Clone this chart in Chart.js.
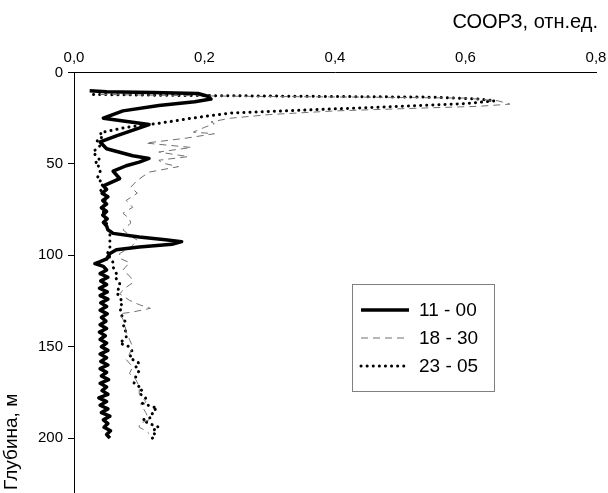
<!DOCTYPE html>
<html>
<head>
<meta charset="utf-8">
<title>СООРЗ</title>
<script src="https://cdn.jsdelivr.net/npm/chart.js@4.4.1/dist/chart.umd.min.js"></script>
<style>
    html, body { margin: 0; padding: 0; background: #ffffff; overflow: hidden; }
    #wrap { position: relative; width: 608px; height: 493px; }
</style>
</head>
<body>
<div id="wrap"><canvas id="profile-chart"></canvas></div>
<script>
// Axis ticks
const xTickValues = [0, 0.2, 0.4, 0.6, 0.8];
const yTickValues = [0, 50, 100, 150, 200];

// Series names (time of measurement)
const seriesNames = ['11 - 00', '18 - 30', '23 - 05'];

// 11 - 00 : depth (m) and value
const depth1100 = [10, 10.5, 11, 11.5, 13, 14.5, 16, 18, 21, 25, 28.5, 31, 34.5, 38, 41.7, 45.5, 47, 49, 51, 54, 58, 62,
    64, 66, 68, 70, 72, 74, 76, 78, 80, 82, 84, 86, 88, 90, 91.5, 92.5, 94, 95.5, 97, 99, 102, 103.5, 104.5,
    106, 108, 110, 112, 114, 116, 118, 120, 122, 124, 126, 128, 130, 132, 134, 136, 138, 140, 142, 144, 146, 148,
    150, 152, 154, 156, 158, 160, 162, 164, 166, 168, 170, 172, 174, 176, 178, 180, 182, 184, 186, 188, 190, 192,
    194, 196, 198, 200];
const value1100 = [0.024, 0.05, 0.12, 0.19, 0.205, 0.21, 0.185, 0.13, 0.075, 0.045, 0.115, 0.095, 0.066, 0.04, 0.05, 0.09, 0.115, 0.1, 0.08, 0.06, 0.07, 0.045,
    0.05, 0.043, 0.052, 0.044, 0.05, 0.042, 0.05, 0.044, 0.051, 0.045, 0.05, 0.052, 0.06, 0.1, 0.14, 0.165, 0.15, 0.1, 0.065, 0.055, 0.05, 0.04, 0.032,
    0.045, 0.05, 0.04, 0.052, 0.041, 0.05, 0.039, 0.051, 0.04, 0.052, 0.041, 0.05, 0.04, 0.051, 0.042, 0.049, 0.04, 0.05, 0.039, 0.048, 0.04, 0.05,
    0.042, 0.052, 0.04, 0.05, 0.041, 0.052, 0.04, 0.05, 0.042, 0.053, 0.04, 0.05, 0.043, 0.052, 0.038, 0.05, 0.04, 0.052, 0.042, 0.055, 0.045, 0.052,
    0.046, 0.056, 0.05, 0.055];

// 18 - 30
const depth1830 = [12, 13, 13.5, 14, 15.5, 17.3, 18.5, 19.5, 21, 23, 25, 27, 28, 30, 32.6, 33.5, 36, 38.6, 41, 43.5, 46, 48, 49.5, 51.5, 54.5,
    59, 62.7, 66, 70, 73.7, 77, 80, 82.4, 86, 89, 91.7, 95.5, 99, 101.6, 104, 108, 112, 115, 117.5, 121, 124.6, 127, 129, 131, 132,
    135, 138, 142, 146, 150, 154, 157, 161, 164.6, 168, 172, 176, 180, 183, 186, 190, 192, 194, 196, 197.5];
const value1830 = [0.04, 0.25, 0.45, 0.6, 0.65, 0.668, 0.62, 0.53, 0.4, 0.3, 0.24, 0.21, 0.215, 0.2, 0.183, 0.215, 0.17, 0.11, 0.18, 0.13, 0.175, 0.13, 0.135, 0.16, 0.115,
    0.097, 0.087, 0.097, 0.08, 0.09, 0.075, 0.085, 0.087, 0.075, 0.085, 0.097, 0.087, 0.07, 0.07, 0.085, 0.075, 0.087, 0.09, 0.08, 0.07, 0.085, 0.1, 0.117, 0.09, 0.07,
    0.075, 0.078, 0.08, 0.085, 0.09, 0.085, 0.08, 0.09, 0.085, 0.095, 0.1, 0.1, 0.11, 0.105, 0.11, 0.115, 0.1, 0.1, 0.11, 0.115];

// 23 - 05
const depth2305 = [12, 12.5, 13, 13.5, 14.5, 15.5, 17, 17.8, 20, 22.2, 25, 27.7, 30, 33, 35, 37, 40, 43.5, 46, 48, 49.5, 52, 55, 58, 60.5,
    64, 68, 72, 77, 81, 84.6, 88, 91.7, 96, 100, 101, 104, 106.5, 110, 112, 115, 117.5, 120, 123, 126, 128, 131, 134, 137, 139,
    142, 145, 148, 150, 153, 156, 159, 161, 163, 166, 170, 173, 175.5, 178, 181, 183.7, 185, 188.5, 190, 192, 194, 196, 198.5, 200];
const value2305 = [0.03, 0.15, 0.35, 0.55, 0.62, 0.645, 0.6, 0.546, 0.393, 0.239, 0.18, 0.132, 0.08, 0.04, 0.045, 0.035, 0.04, 0.029, 0.035, 0.04, 0.032, 0.04, 0.04, 0.035, 0.045,
    0.04, 0.05, 0.045, 0.045, 0.05, 0.05, 0.055, 0.055, 0.055, 0.05, 0.055, 0.06, 0.06, 0.065, 0.063, 0.07, 0.07, 0.065, 0.07, 0.075, 0.07, 0.072, 0.074, 0.08, 0.075,
    0.08, 0.08, 0.07, 0.085, 0.09, 0.085, 0.1, 0.095, 0.1, 0.095, 0.092, 0.105, 0.1, 0.11, 0.105, 0.128, 0.12, 0.12, 0.105, 0.115, 0.13, 0.12, 0.125, 0.12];

const FONT = "'Liberation Sans', Arial, sans-serif";

/**
 * Pair depth and value arrays into scatter points (x = value, y = depth)
 */
function toPoints(depths, values) {
    return depths.map((d, i) => ({ x: values[i], y: d }));
}

const commaFormat = (v) => v.toFixed(1).replace('.', ',');

/**
 * Axis titles and the framed legend inside the plot
 */
const decorPlugin = {
    id: 'decor',
    afterDraw(chart) {
        const ctx = chart.ctx;
        ctx.save();
        ctx.fillStyle = '#000000';

        // x axis title, top right
        ctx.font = '20px ' + FONT;
        ctx.textAlign = 'right';
        ctx.textBaseline = 'middle';
        ctx.fillText('СООРЗ, отн.ед.', 598, 22);

        // y axis title, rotated, bottom left
        ctx.save();
        ctx.translate(12, 490);
        ctx.rotate(-Math.PI / 2);
        ctx.textAlign = 'left';
        ctx.font = '19px ' + FONT;
        ctx.fillText('Глубина, м', 0, 0);
        ctx.restore();

        // legend box
        const box = { x: 352.5, y: 284.5, w: 142, h: 107 };
        ctx.fillStyle = '#ffffff';
        ctx.fillRect(box.x, box.y, box.w, box.h);
        ctx.strokeStyle = '#808080';
        ctx.lineWidth = 1;
        ctx.strokeRect(box.x, box.y, box.w, box.h);

        chart.data.datasets.forEach((ds, i) => {
            const y = 310 + i * 28;
            ctx.beginPath();
            ctx.strokeStyle = ds.borderColor;
            ctx.lineWidth = ds.borderWidth;
            ctx.lineCap = ds.borderCapStyle || 'butt';
            ctx.setLineDash(ds.borderDash || []);
            ctx.moveTo(361, y);
            ctx.lineTo(409, y);
            ctx.stroke();
            ctx.setLineDash([]);
            ctx.fillStyle = '#000000';
            ctx.font = '19px ' + FONT;
            ctx.textAlign = 'left';
            ctx.fillText(ds.label, 419, y + 1);
        });
        ctx.restore();
    }
};

const ctx = document.getElementById('profile-chart');
new Chart(ctx, {
    type: 'scatter',
    data: {
        datasets: [
            {
                label: seriesNames[0],
                data: toPoints(depth1100, value1100),
                borderColor: '#000000',
                borderWidth: 3.5,
                borderJoinStyle: 'round'
            },
            {
                label: seriesNames[1],
                data: toPoints(depth1830, value1830),
                borderColor: '#707070',
                borderWidth: 1,
                borderDash: [7, 5]
            },
            {
                label: seriesNames[2],
                data: toPoints(depth2305, value2305),
                borderColor: '#000000',
                borderWidth: 3,
                borderDash: [0.1, 6],
                borderCapStyle: 'round'
            }
        ].map(ds => Object.assign({ showLine: true, pointRadius: 0, tension: 0, fill: false }, ds))
    },
    options: {
        responsive: true,
        maintainAspectRatio: false,
        animation: false,
        layout: { padding: { top: 0, right: 12, bottom: 0, left: 0 } },
        plugins: {
            legend: { display: false },
            tooltip: { enabled: false }
        },
        scales: {
            x: {
                type: 'linear',
                position: 'top',
                min: 0,
                max: 0.8,
                afterBuildTicks: (scale) => { scale.ticks = xTickValues.map(v => ({ value: v })); },
                afterFit: (scale) => {
                    scale.height = 72.5;
                    scale.paddingLeft = 0;
                    scale.paddingRight = 0;
                },
                ticks: {
                    padding: 6,
                    color: '#000000',
                    font: { family: FONT, size: 15 },
                    callback: (v) => commaFormat(v)
                },
                grid: { display: true, drawOnChartArea: false, drawTicks: false },
                border: { display: true, color: '#000000', width: 1 }
            },
            y: {
                type: 'linear',
                reverse: true,
                min: 0,
                max: 230,
                afterBuildTicks: (scale) => { scale.ticks = yTickValues.map(v => ({ value: v })); },
                afterFit: (scale) => {
                    scale.width = 74;
                    scale.paddingTop = 0;
                    scale.paddingBottom = 0;
                },
                ticks: {
                    padding: 5,
                    color: '#000000',
                    font: { family: FONT, size: 15 }
                },
                grid: { display: true, drawOnChartArea: false, drawTicks: true, tickLength: 6, color: '#000000' },
                border: { display: true, color: '#000000', width: 1 }
            }
        }
    },
    plugins: [decorPlugin]
});
</script>
</body>
</html>
